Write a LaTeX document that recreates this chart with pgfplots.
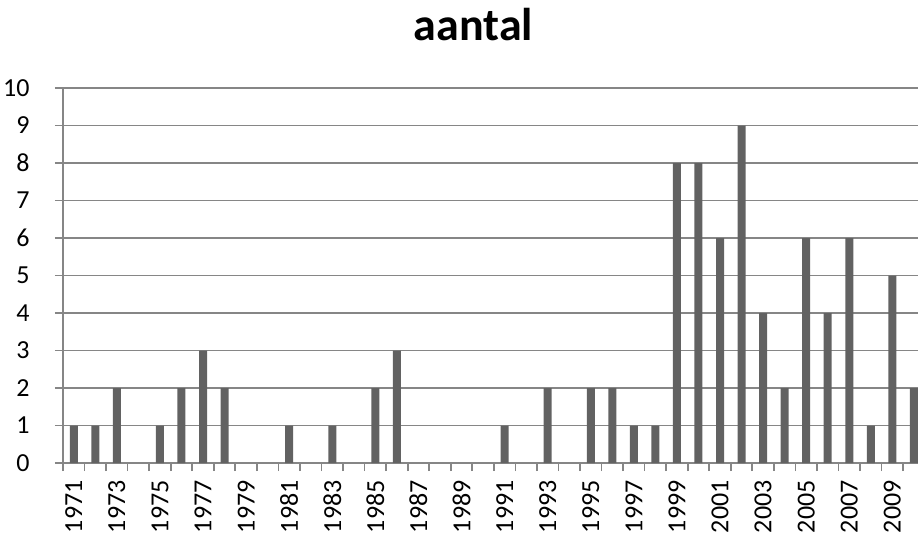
\documentclass[border=0pt]{standalone}
\usepackage{pgfplots}
\pgfplotsset{compat=1.18}
\usepackage{fontspec}
\setmainfont{Carlito}
\definecolor{barc}{HTML}{626262}
\definecolor{gridc}{HTML}{868686}
\begin{document}
\begin{tikzpicture}
\begin{axis}[
  scale only axis, width=427.5pt, height=187.5pt,
  xmin=-0.5, xmax=39.19, ymin=0, ymax=10,
  axis x line=bottom, axis y line=left,
  axis line style={-, draw=gridc, line width=0.85pt},
  ytick={0,1,...,10},
  ymajorgrids, grid style={draw=gridc, line width=0.85pt},
  xtick={-0.5,0.5,...,39.5}, xticklabels={},
  tick align=outside, major tick length=4pt,
  tick style={draw=gridc, line width=0.85pt},
  /pgf/number format/assume math mode=true,
  ticklabel style={font=\fontsize{13}{15}\selectfont},
  yticklabel style={anchor=east, inner xsep=12.5pt, inner ysep=0pt},
  extra x ticks={0,2,4,6,8,10,12,14,16,18,20,22,24,26,28,30,32,34,36,38},
  extra x tick labels={1971,1973,1975,1977,1979,1981,1983,1985,1987,1989,1991,1993,1995,1997,1999,2001,2003,2005,2007,2009},
  extra x tick style={major tick length=0pt, xticklabel style={rotate=90, anchor=east, inner xsep=9.3pt, inner ysep=0pt, xshift=0.8pt}},
  ybar, bar width=4pt,
]
\addplot[fill=barc, draw=none] coordinates {
 (0,1) (1,1) (2,2) (4,1) (5,2) (6,3) (7,2) (10,1) (12,1) (14,2) (15,3)
 (20,1) (22,2) (24,2) (25,2) (26,1) (27,1) (28,8) (29,8) (30,6) (31,9)
 (32,4) (33,2) (34,6) (35,4) (36,6) (37,1) (38,5) (39,2)
};
\end{axis}
\node[anchor=base, font=\fontsize{23}{27}\selectfont\bfseries] at ([xshift=205.25pt,yshift=24pt]current axis.north west) {aantal};
\pgfresetboundingbox
\path[use as bounding box] ([xshift=-31.5pt,yshift=-37.5pt]current axis.south west) rectangle ([yshift=44pt]current axis.north east);
\end{tikzpicture}
\end{document}
